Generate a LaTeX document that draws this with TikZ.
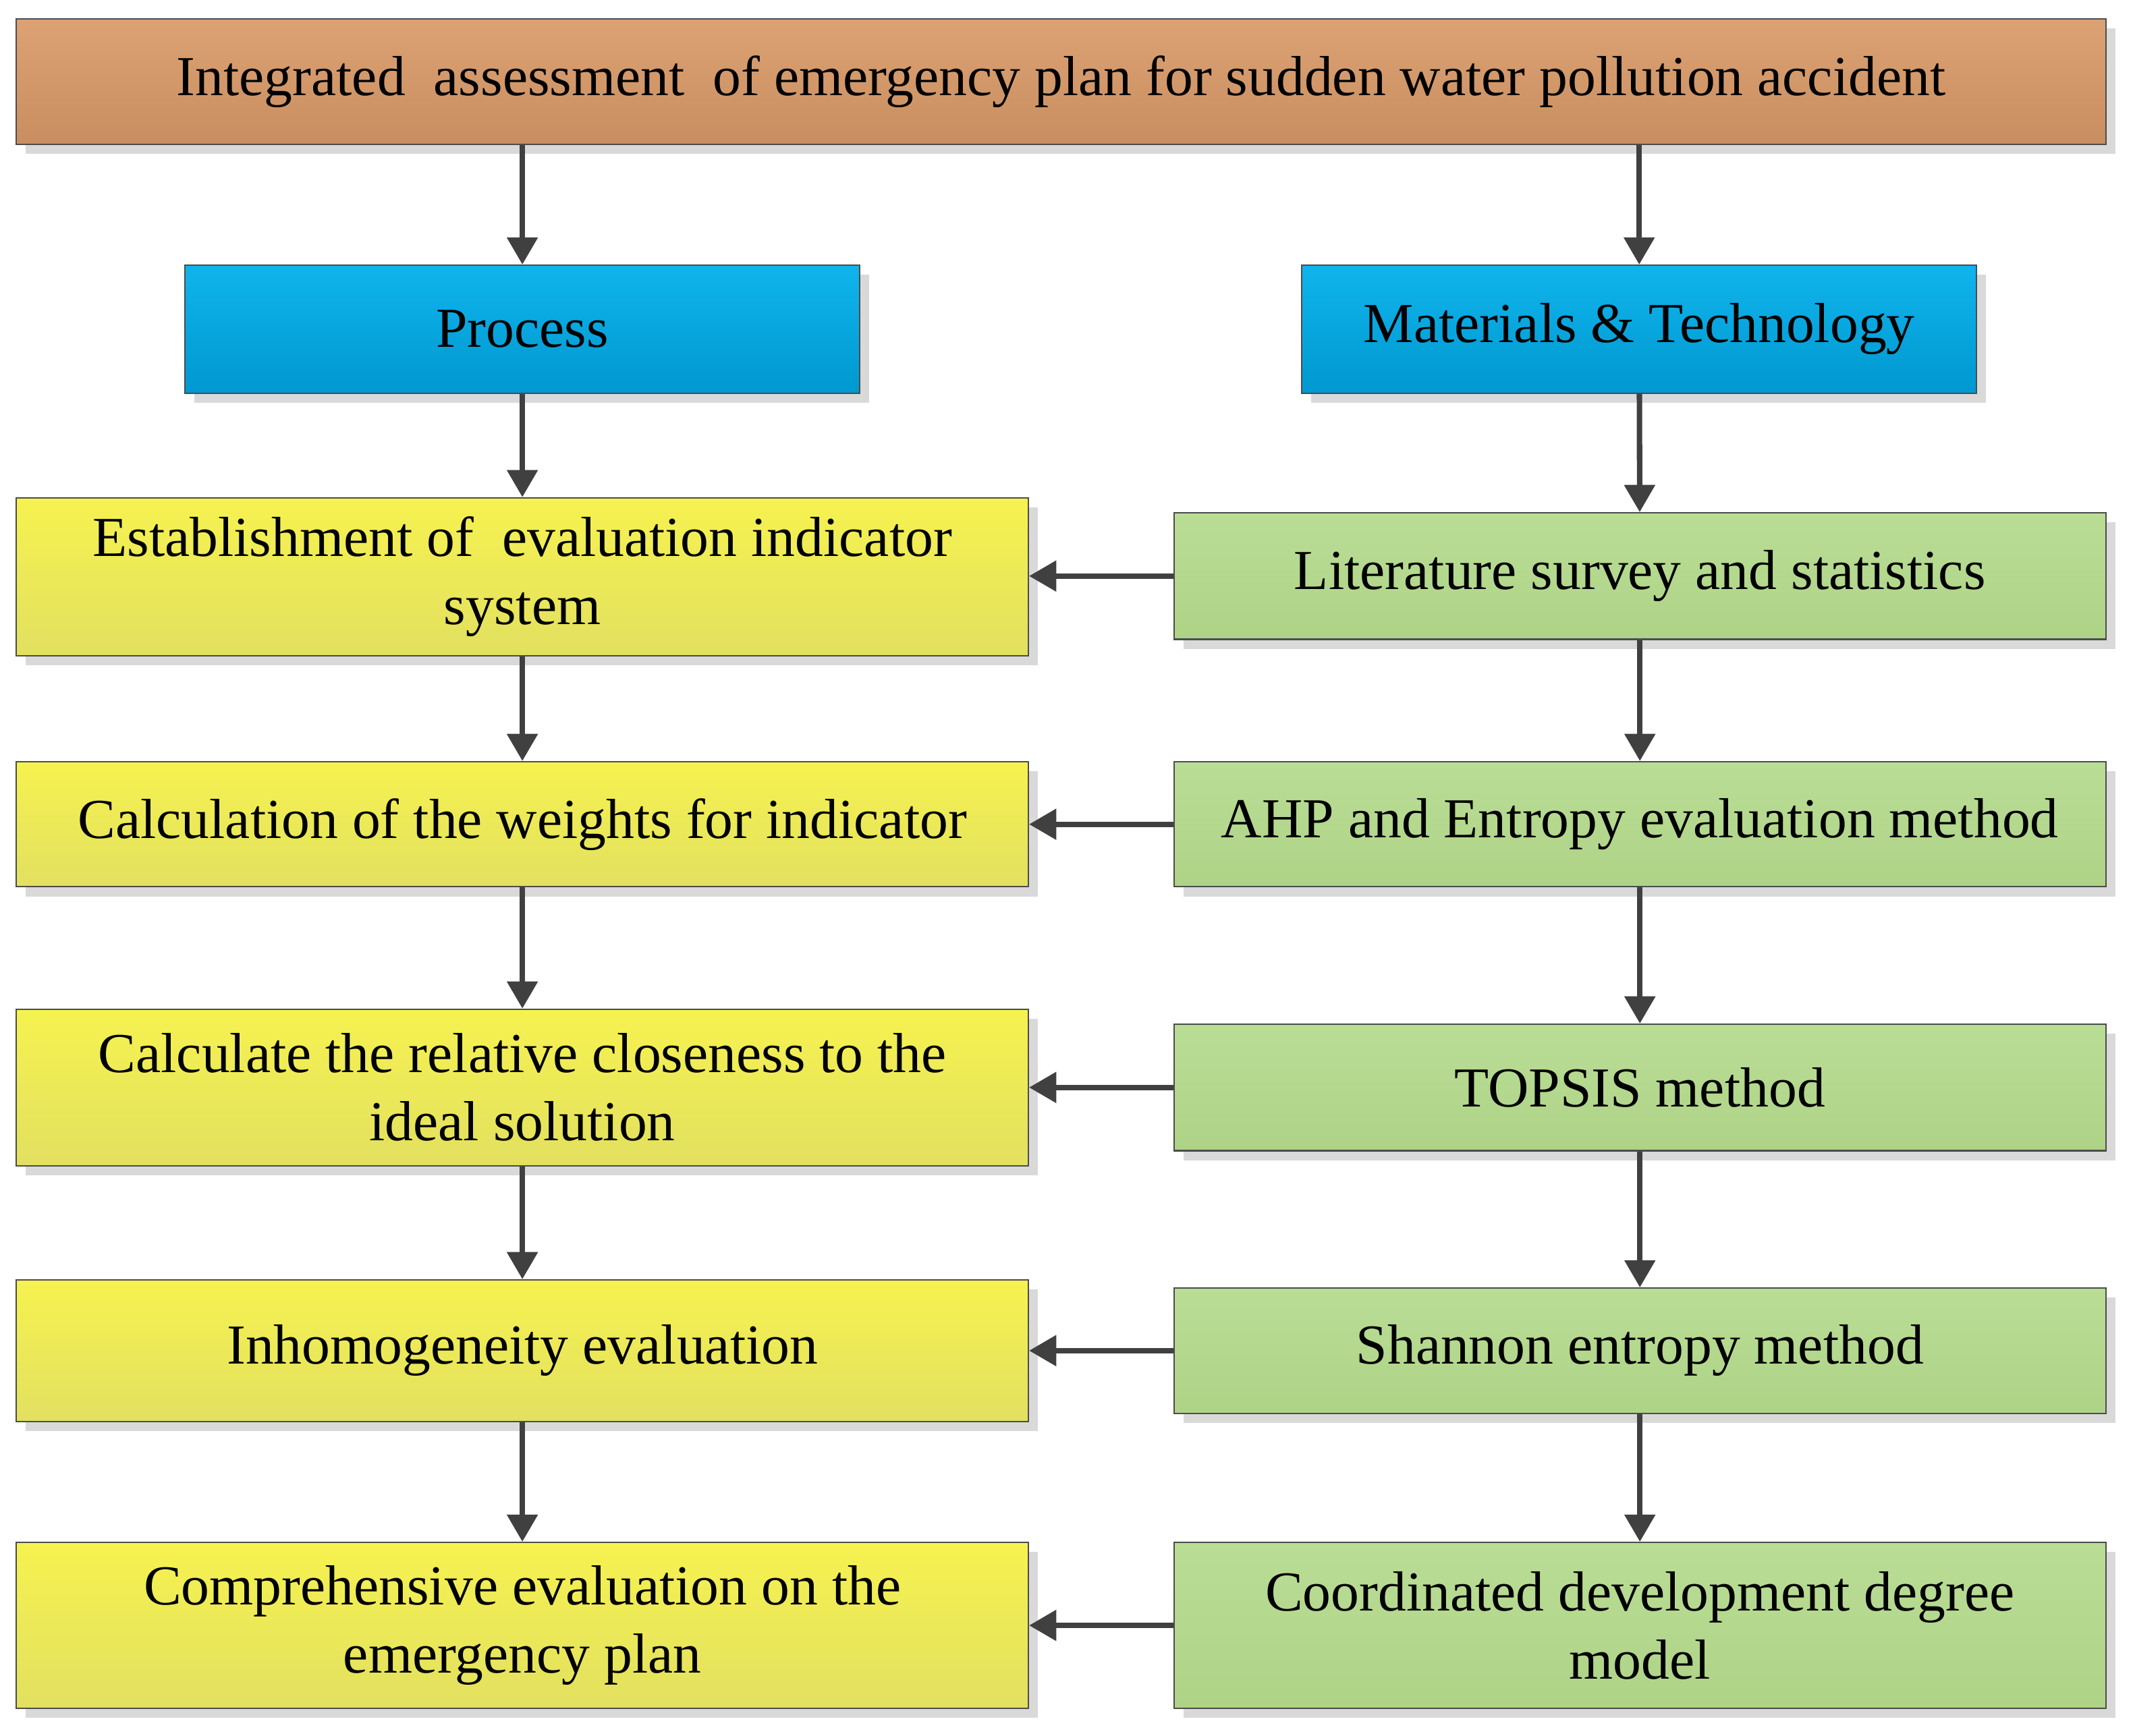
\documentclass[tikz,border=0pt]{standalone}
\usepackage{fontspec}
\setmainfont{Liberation Serif}
\usetikzlibrary{arrows.meta}
\definecolor{arr}{HTML}{404040}
\definecolor{topc}{HTML}{DCA274}\definecolor{botc}{HTML}{C98E60}
\definecolor{blt}{HTML}{10B4EC}\definecolor{blb}{HTML}{0098D0}
\definecolor{ylt}{HTML}{F6F250}\definecolor{ylb}{HTML}{E2E060}
\definecolor{grt}{HTML}{BADD96}\definecolor{grb}{HTML}{AED386}
\tikzset{
 base/.style={draw=black!70, line width=1pt, align=center, font=\fontsize{41.5}{50}\selectfont, inner sep=0pt},
 sh/.style={fill=black!15, draw=none},
 ar/.style={draw=arr, line width=4pt, -{Triangle[length=20pt,width=22pt]}},
 orng/.style={base, top color=topc, bottom color=botc},
 blue/.style={base, top color=blt, bottom color=blb},
 yel/.style={base, top color=ylt, bottom color=ylb},
 grn/.style={base, top color=grt, bottom color=grb},
}
\newcommand{\bx}[7]{% name style x1 y1 x2 y2 text
 \fill[sh] (#3+7,#4+7) rectangle (#5+7,#6+7);
 \node[#2, minimum width=#5-#3, minimum height=#6-#4] (#1) at ({(#3+#5)/2},{(#4+#6)/2}) {#7};}
\begin{document}
\begin{tikzpicture}[x=1pt,y=-1pt]
\useasboundingbox[fill=white] (0,0) rectangle (1568,1276);
\bx{t}{orng}{12}{14}{1548}{106}{Integrated\ \ assessment\ \ of emergency plan for sudden water pollution accident}
\bx{p}{blue}{136}{195}{632}{289}{Process}
\bx{m}{blue}{957}{195}{1453}{289}{Materials \& Technology}
\bx{y1}{yel}{12}{366}{756}{482}{Establishment of\ \ evaluation indicator\\system}
\bx{y2}{yel}{12}{560}{756}{652}{Calculation of the weights for indicator}
\bx{y3}{yel}{12}{742}{756}{857}{Calculate the relative closeness to the\\ideal solution}
\bx{y4}{yel}{12}{941}{756}{1045}{Inhomogeneity evaluation}
\bx{y5}{yel}{12}{1134}{756}{1256}{Comprehensive evaluation on the\\emergency plan}
\bx{g1}{grn}{863}{377}{1548}{470}{Literature survey and statistics}
\bx{g2}{grn}{863}{560}{1548}{652}{AHP and Entropy evaluation method}
\bx{g3}{grn}{863}{753}{1548}{846}{TOPSIS method}
\bx{g4}{grn}{863}{947}{1548}{1039}{Shannon entropy method}
\bx{g5}{grn}{863}{1134}{1548}{1256}{Coordinated development degree\\model}
\draw[ar] (p.north |- t.south) -- (p.north);
\draw[ar] (m.north |- t.south) -- (m.north);
\draw[ar] (p) -- (y1);
\draw[ar] (m) -- (g1);
\foreach \a/\b in {y1/y2,y2/y3,y3/y4,y4/y5,g1/g2,g2/g3,g3/g4,g4/g5}{\draw[ar] (\a) -- (\b);}
\foreach \i in {1,...,5}{\draw[ar] (g\i.west) -- (g\i.west -| y\i.east);}
\end{tikzpicture}
\end{document}
